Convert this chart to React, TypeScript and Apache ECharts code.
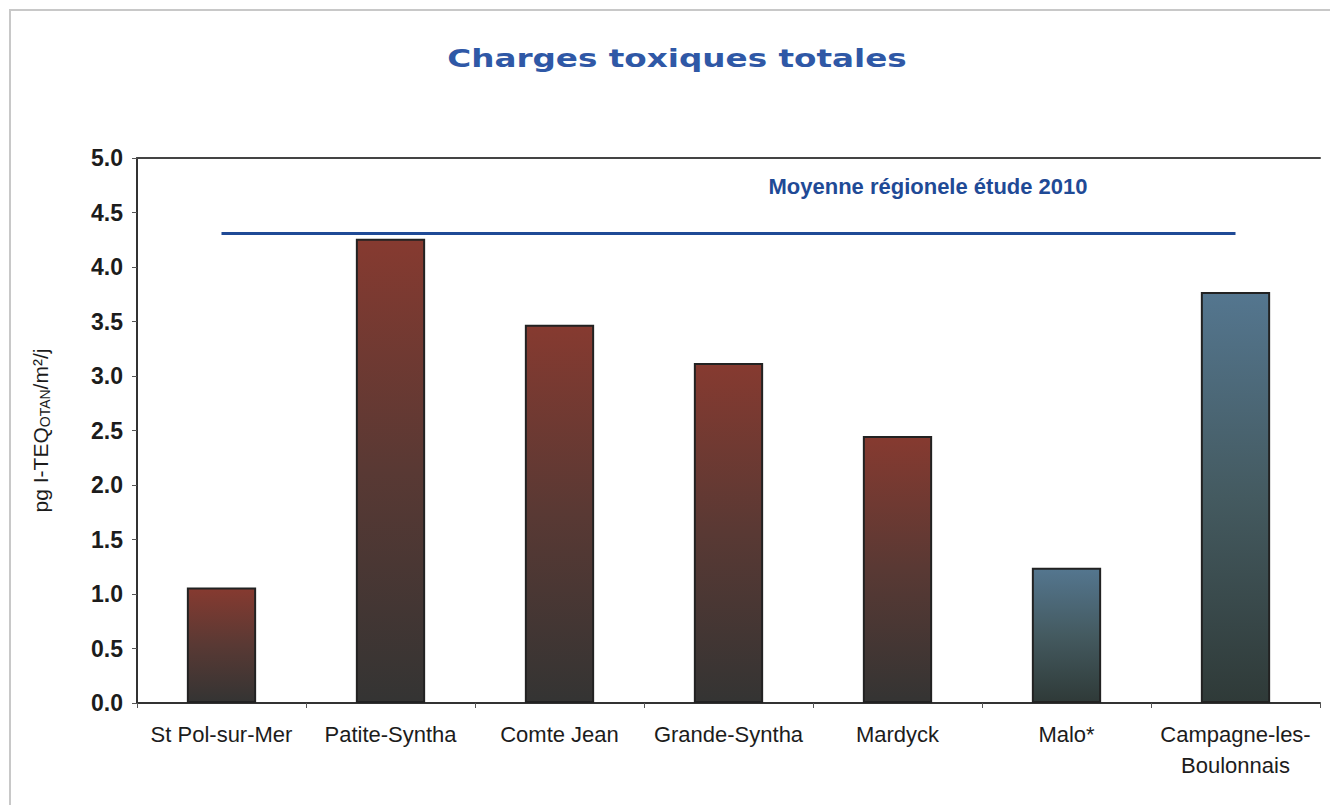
import React, { useEffect, useRef } from "react";
import * as echarts from "echarts";

const categories = [
  "St Pol-sur-Mer",
  "Patite-Syntha",
  "Comte Jean",
  "Grande-Syntha",
  "Mardyck",
  "Malo*",
  "Campagne-les-\nBoulonnais",
];
const values = [1.06, 4.26, 3.47, 3.12, 2.45, 1.24, 3.77];
const groups = ["red", "red", "red", "red", "red", "blue", "blue"];
const regionalMean = 4.31;
const meanLabel = "Moyenne régionele étude 2010";
const yTicks = { min: 0, max: 5, interval: 0.5 };

const gradients: Record<string, echarts.graphic.LinearGradient> = {
  red: new echarts.graphic.LinearGradient(0, 0, 0, 1, [
    { offset: 0, color: "#863a30" },
    { offset: 0.5, color: "#593934" },
    { offset: 1, color: "#343433" },
  ]),
  blue: new echarts.graphic.LinearGradient(0, 0, 0, 1, [
    { offset: 0, color: "#54768f" },
    { offset: 0.5, color: "#445a60" },
    { offset: 1, color: "#2f3a38" },
  ]),
};

export default function App() {
  const ref = useRef<HTMLDivElement>(null);
  useEffect(() => {
    document.body.style.margin = "0";
    const chart = echarts.init(ref.current!, null, { renderer: "svg" });
    chart.setOption({
      animation: false,
      backgroundColor: "#ffffff",
      grid: { left: 137, right: 10, top: 158, bottom: 102 },
      graphic: [
        {
          type: "rect",
          shape: { x: 10, y: 10, width: 1325, height: 800 },
          style: { fill: "none", stroke: "#c8c8c8", lineWidth: 2 },
          silent: true,
        },
        {
          type: "text",
          x: 677,
          y: 59,
          scaleX: 1.36,
          originX: 0,
          originY: 0,
          style: {
            text: "Charges toxiques totales",
            fill: "#2f58a6",
            font: "bold 24px 'DejaVu Sans'",
            align: "center",
            verticalAlign: "middle",
          },
        },
        {
          type: "text",
          x: 928,
          y: 186,
          style: {
            text: meanLabel,
            fill: "#1f4a96",
            font: "bold 22px 'Liberation Sans'",
            align: "center",
            verticalAlign: "middle",
          },
        },
      ],
      xAxis: [
        {
          type: "category",
          data: categories,
          boundaryGap: true,
          axisLine: { lineStyle: { color: "#333", width: 2 } },
          axisTick: { show: true, alignWithLabel: false, length: 5, lineStyle: { color: "#555" } },
          axisLabel: {
            color: "#1c1c1c",
            fontSize: 22,
            fontFamily: "Liberation Sans",
            margin: 16,
            lineHeight: 31,
            interval: 0,
          },
        },
        {
          type: "category",
          position: "top",
          data: categories,
          axisLine: { show: true, lineStyle: { color: "#444", width: 2 } },
          axisTick: { show: false },
          axisLabel: { show: false },
        },
      ],
      yAxis: {
        type: "value",
        min: yTicks.min,
        max: yTicks.max,
        interval: yTicks.interval,
        name: "{a|pg I-TEQ}{b|OTAN}{a|/m²/j}",
        nameLocation: "middle",
        nameGap: 85,
        nameTextStyle: {
          rich: {
            a: { fontSize: 21, fontFamily: "Liberation Sans", color: "#1c1c1c" },
            b: { fontSize: 14, fontFamily: "Liberation Sans", color: "#1c1c1c", padding: [10, 0, 0, 0] },
          },
        },
        axisLine: { show: true, lineStyle: { color: "#333", width: 2 } },
        axisTick: { show: true, length: 5, lineStyle: { color: "#555" } },
        splitLine: { show: false },
        axisLabel: {
          color: "#1c1c1c",
          fontSize: 23,
          fontWeight: "bold",
          fontFamily: "Liberation Sans",
          margin: 14,
          formatter: (v: number) => v.toFixed(1),
        },
      },
      series: [
        {
          type: "bar",
          barWidth: "41%",
          data: values.map((v, i) => ({
            value: v,
            itemStyle: { color: gradients[groups[i]], borderColor: "#222", borderWidth: 2 },
          })),
          markLine: {
            silent: true,
            symbol: "none",
            label: { show: false },
            lineStyle: { color: "#1f4a96", width: 3, type: "solid" },
            data: [
              [
                { coord: [categories[0], regionalMean] },
                { coord: [categories[categories.length - 1], regionalMean] },
              ],
            ],
          },
        },
      ],
    });
    return () => chart.dispose();
  }, []);
  return <div ref={ref} style={{ width: 1330, height: 805 }} />;
}
